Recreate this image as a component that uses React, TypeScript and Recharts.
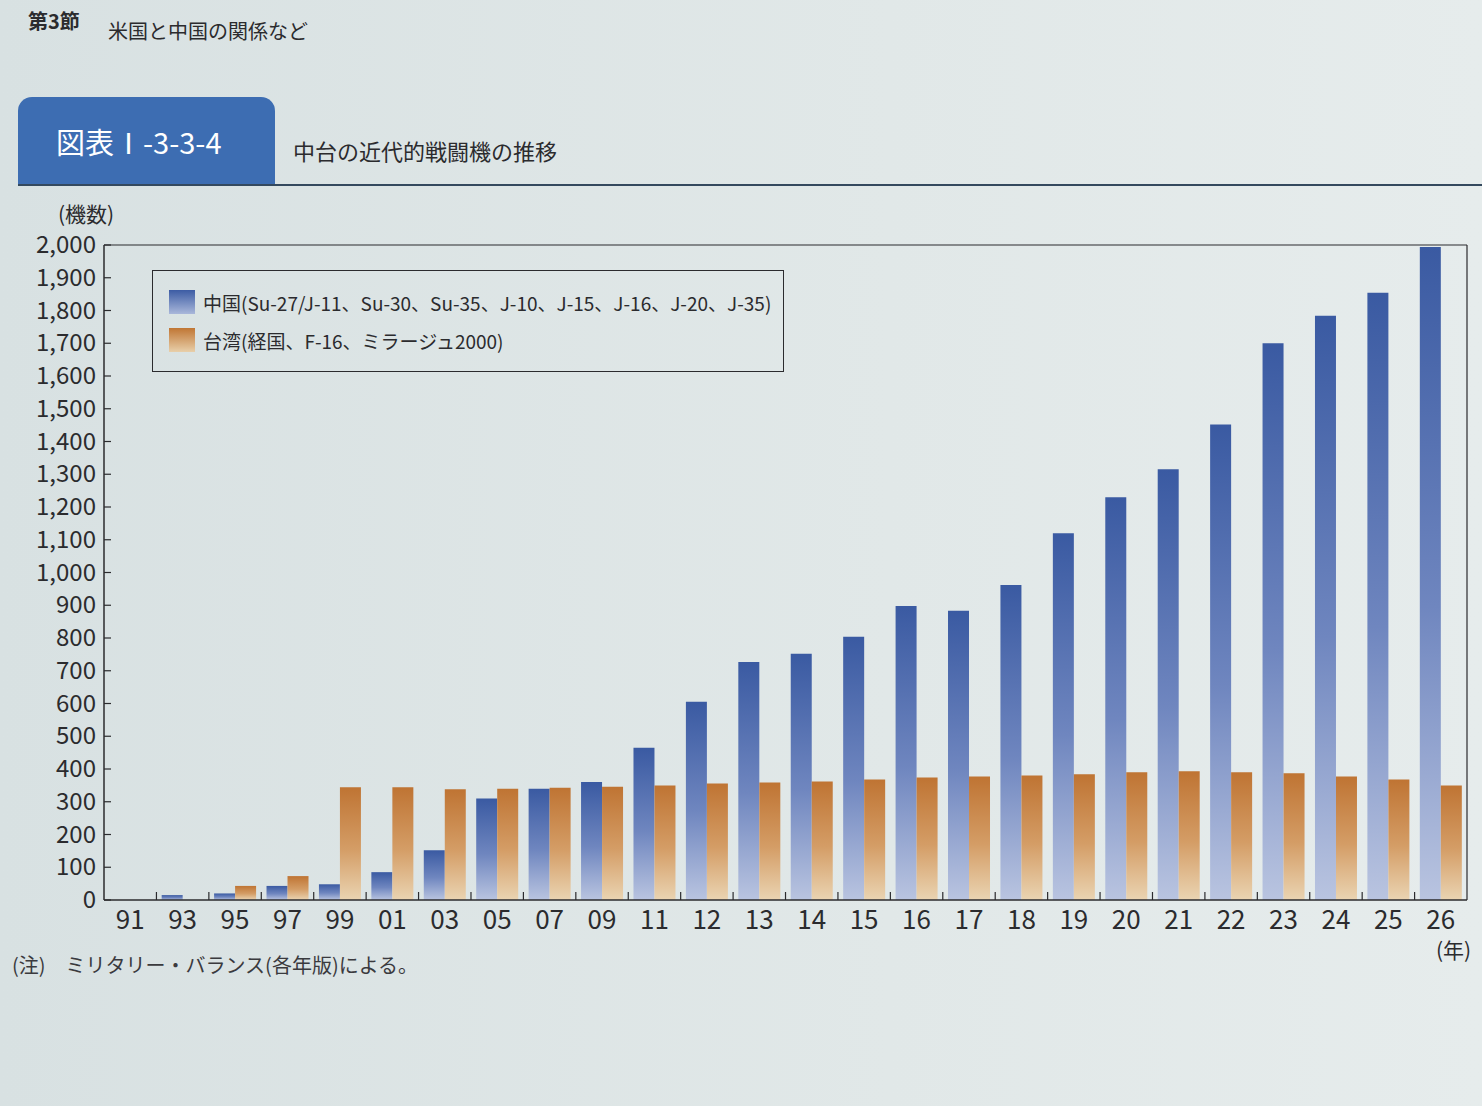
import { BarChart, Bar, XAxis, YAxis, Legend } from "recharts";

const years = ["91", "93", "95", "97", "99", "01", "03", "05", "07", "09", "11", "12", "13", "14", "15", "16", "17", "18", "19", "20", "21", "22", "23", "24", "25", "26"];
const china = [0, 15, 20, 43, 48, 85, 152, 310, 340, 360, 465, 605, 727, 752, 804, 898, 883, 962, 1120, 1230, 1315, 1452, 1700, 1784, 1854, 1994];
const taiwan = [0, 0, 43, 73, 344, 344, 338, 340, 343, 346, 350, 356, 359, 362, 368, 374, 377, 380, 384, 390, 393, 390, 387, 377, 368, 350];
const yTicks = [0, 100, 200, 300, 400, 500, 600, 700, 800, 900, 1000, 1100, 1200, 1300, 1400, 1500, 1600, 1700, 1800, 1900, 2000];

const data = years.map((year, i) => ({ year, china: china[i], taiwan: taiwan[i] }));

const FONT = '"Noto Sans CJK JP", "Noto Sans", sans-serif';
const INK = "#2b2b2e";
const CHART_W = 1482;
const CHART_H = 722;
const Y_AXIS_W = 104;
const RIGHT_M = 14;
const BAND = (CHART_W - Y_AXIS_W - RIGHT_M) / years.length;

function YTick({ x, y, payload }: any) {
  return (
    <g>
      <line x1={x + 8} x2={x + 15} y1={y} y2={y} stroke={INK} strokeWidth={1.2} />
      <text x={x} y={y} dy={8} textAnchor="end" fontSize={24} fill={INK} fontFamily={FONT}>
        {Number(payload.value).toLocaleString("en-US")}
      </text>
    </g>
  );
}

function XTick({ x, y, payload, index }: any) {
  return (
    <g>
      {index < years.length - 1 && (
        <line x1={x + BAND / 2} x2={x + BAND / 2} y1={y - 4} y2={y - 12} stroke={INK} strokeWidth={1.2} />
      )}
      <text x={x} y={y} dy={25} textAnchor="middle" fontSize={26} fill={INK} fontFamily={FONT}>
        {payload.value}
      </text>
    </g>
  );
}

function LegendBox() {
  const row = { display: "flex", alignItems: "center", gap: 8, height: 38, whiteSpace: "nowrap" } as const;
  const swatch = (top: string, bottom: string) => ({
    width: 26,
    height: 24,
    flex: "none",
    background: `linear-gradient(${top}, ${bottom})`,
  });
  return (
    <div
      style={{
        border: `1.5px solid ${INK}`,
        width: 632,
        boxSizing: "border-box",
        padding: "12px 16px",
        fontFamily: FONT,
        fontSize: 19,
        color: INK,
      }}
    >
      <div style={row}>
        <div style={swatch("#3c5ca4", "#a9b7da")} />
        <span>中国(Su-27/J-11、Su-30、Su-35、J-10、J-15、J-16、J-20、J-35)</span>
      </div>
      <div style={row}>
        <div style={swatch("#c07634", "#e8cfaa")} />
        <span>台湾(経国、F-16、ミラージュ2000)</span>
      </div>
    </div>
  );
}

export default function App() {
  return (
    <div
      style={{
        position: "fixed",
        left: 0,
        top: 0,
        width: 1482,
        height: 1106,
        background: "linear-gradient(90deg, #d8e1e2 0%, #e1e8e8 60%, #e6ecec 100%)",
        fontFamily: FONT,
        color: INK,
        overflow: "hidden",
      }}
    >
      {/* page header */}
      <div style={{ position: "absolute", left: 28, top: 6, fontSize: 20, fontWeight: 700 }}>第3節</div>
      <div style={{ position: "absolute", left: 108, top: 16, fontSize: 20 }}>米国と中国の関係など</div>

      {/* figure title */}
      <div
        style={{
          position: "absolute",
          left: 18,
          top: 97,
          width: 257,
          height: 88,
          background: "#3d6db2",
          borderRadius: "14px 14px 0 0",
          color: "#fff",
          fontSize: 29,
          display: "flex",
          alignItems: "center",
          paddingLeft: 38,
          boxSizing: "border-box",
        }}
      >
        図表Ⅰ-3-3-4
      </div>
      <div style={{ position: "absolute", left: 293, top: 134, fontSize: 22 }}>中台の近代的戦闘機の推移</div>
      <div style={{ position: "absolute", left: 18, top: 184, width: 1464, height: 2, background: "#34495e" }} />

      <div style={{ position: "absolute", left: 58, top: 198, fontSize: 21 }}>(機数)</div>

      <div style={{ position: "absolute", left: 0, top: 220 }}>
        <BarChart
          width={CHART_W}
          height={CHART_H}
          data={data}
          margin={{ top: 24, right: RIGHT_M, bottom: 0, left: 0 }}
          barCategoryGap="10%"
          barGap={0}
        >
          <defs>
            <linearGradient id="gChina" x1="0" y1="0" x2="0" y2="1">
              <stop offset="0%" stopColor="#3a5aa2" />
              <stop offset="55%" stopColor="#6f86bf" />
              <stop offset="100%" stopColor="#b9c4e0" />
            </linearGradient>
            <linearGradient id="gTaiwan" x1="0" y1="0" x2="0" y2="1">
              <stop offset="0%" stopColor="#bf7433" />
              <stop offset="55%" stopColor="#d49d66" />
              <stop offset="100%" stopColor="#ead4b2" />
            </linearGradient>
          </defs>
          <XAxis
            dataKey="year"
            interval={0}
            height={42}
            tickSize={0}
            tickMargin={4}
            tick={<XTick />}
            axisLine={{ stroke: INK, strokeWidth: 1.5 }}
            tickLine={false}
          />
          <XAxis xAxisId="frame" orientation="top" dataKey="year" height={1} tick={false} tickLine={false} axisLine={{ stroke: INK, strokeWidth: 1.2 }} />
          <YAxis
            width={Y_AXIS_W}
            domain={[0, 2000]}
            ticks={yTicks}
            interval={0}
            tickSize={0}
            tickMargin={8}
            tick={<YTick />}
            axisLine={{ stroke: INK, strokeWidth: 1.5 }}
            tickLine={false}
          />
          <YAxis yAxisId="frame" orientation="right" width={1} tick={false} tickLine={false} axisLine={{ stroke: INK, strokeWidth: 1.2 }} />
          <Legend
            layout="horizontal"
            verticalAlign="middle"
            align="center"
            content={() => <LegendBox />}
            wrapperStyle={{ position: "absolute", left: 152, top: 50, width: "auto", height: "auto" }}
          />
          <Bar dataKey="china" name="中国" fill="url(#gChina)" isAnimationActive={false} />
          <Bar dataKey="taiwan" name="台湾" fill="url(#gTaiwan)" isAnimationActive={false} />
        </BarChart>
      </div>

      <div style={{ position: "absolute", left: 1436, top: 934, fontSize: 21 }}>(年)</div>
      <div style={{ position: "absolute", left: 12, top: 950, fontSize: 20, color: "#3a3a3e" }}>
        (注)　ミリタリー・バランス(各年版)による。
      </div>
    </div>
  );
}
